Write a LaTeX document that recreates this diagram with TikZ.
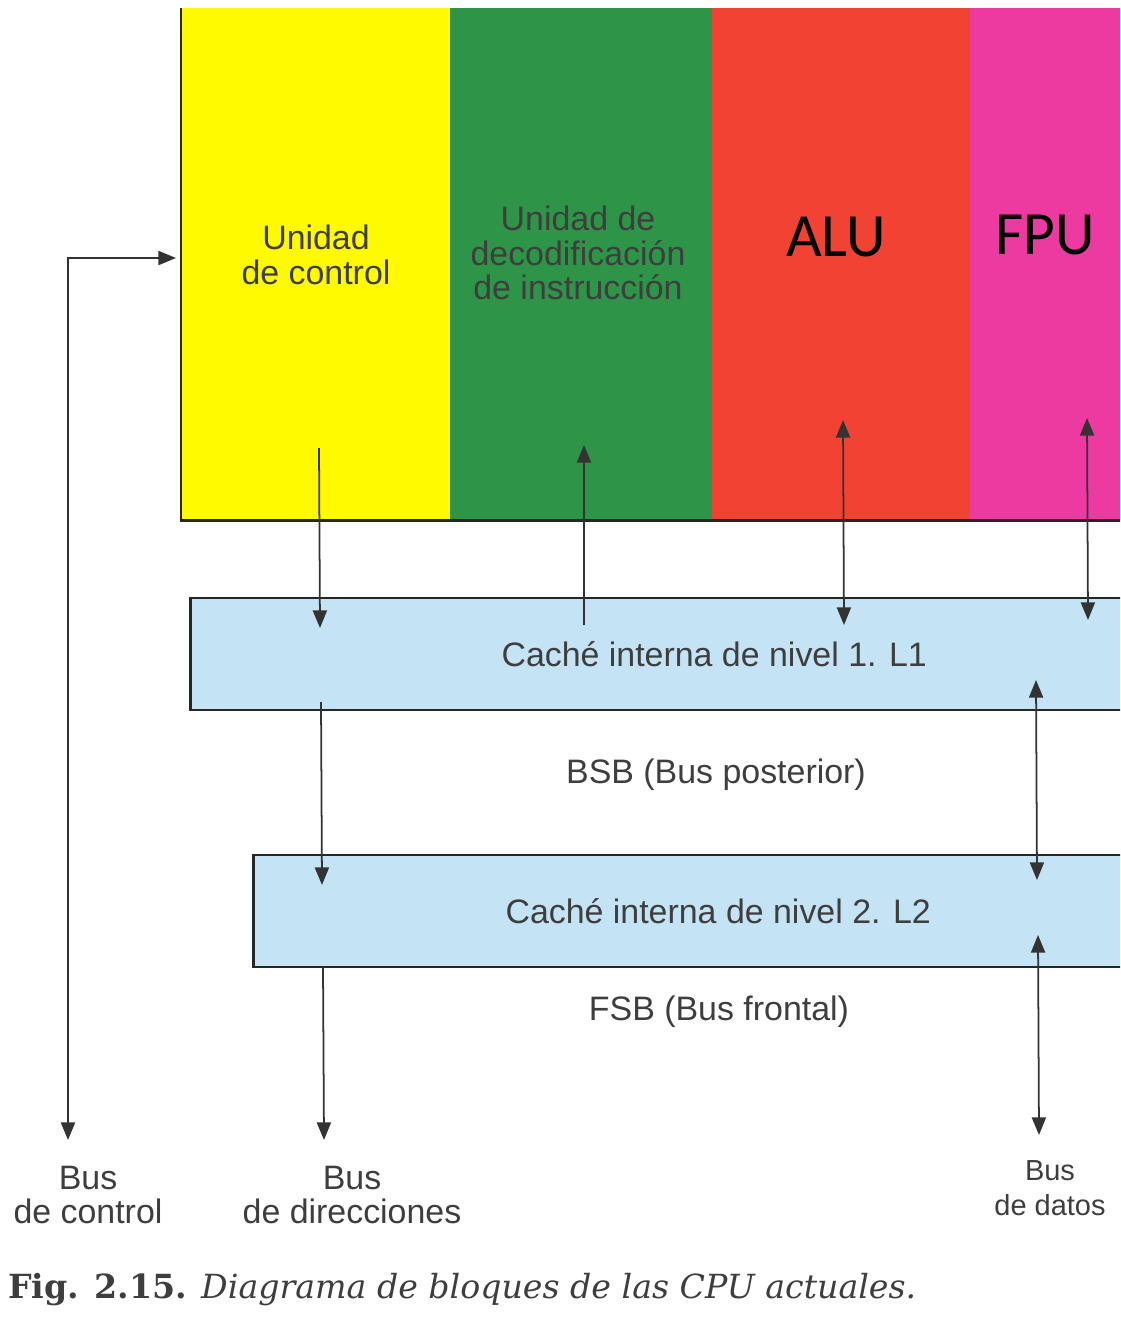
\documentclass[tikz,border=0pt]{standalone}
\usepackage{fontspec}
\setmainfont{Liberation Sans}
\newfontfamily\alufont{Carlito}
\newfontfamily\capfont{DejaVu Serif}
\usepackage{xcolor}
\usepackage{tikz}
\usetikzlibrary{arrows.meta,positioning}

\definecolor{cuyellow}{RGB}{255,250,0}
\definecolor{decgreen}{RGB}{46,148,72}
\definecolor{alured}{RGB}{241,66,52}
\definecolor{fpupink}{RGB}{236,58,160}
\definecolor{cacheblue}{RGB}{196,228,246}
\definecolor{txtgray}{RGB}{62,62,62}

\begin{document}
\begin{tikzpicture}[x=0.02cm,y=-0.02cm,
 font=\fontsize{19.3}{19.6}\selectfont,
 col/.style={draw=none,inner sep=0pt,minimum width=#1,minimum height=10.24cm},
 cache/.style={draw=black!85,line width=1.5pt,fill=cacheblue,inner sep=0pt,minimum height=2.24cm,text=txtgray},
 lbl/.style={align=center,text=txtgray,inner sep=1pt},
 big/.style={font=\alufont\fontsize{35}{40}\selectfont,text=black},
 edge/.style={draw=black!85,line width=1.5pt},
 line/.style={-{Triangle[length=10pt,width=8pt]},line width=1pt,draw=black!80},
 dline/.style={{Triangle[length=10pt,width=8pt]}-{Triangle[length=10pt,width=8pt]},line width=1pt,draw=black!80}]
\clip (0,0) rectangle (1120,1319);
\fill[white] (0,0) rectangle (1120,1319);

% processor block
\node[col=5.4cm,fill=cuyellow,anchor=north west] (cu) at (181,8) {};
\node[col=5.26cm,fill=decgreen,right=-1pt of cu] (dec) {};
\node[col=5.18cm,fill=alured,right=-1pt of dec] (alu) {};
\node[col=3.2cm,fill=fpupink,right=-1pt of alu] (fpu) {};
\draw[edge] (cu.north west)--(cu.south west)--(fpu.south east);
\node[lbl] (cutxt) at (316,255) {Unidad\\de control};
\node[lbl] (dectxt) at (578,253) {Unidad de\\decodificación\\de instrucción};
\node[big] (alutxt) at (836,237) {ALU};
\node[big] (fputxt) at (1045,235) {FPU};

% caches
\node[cache,minimum width=20.96cm,anchor=west] (l1) at (189,654) {Caché interna de nivel 1. L1};
\node[cache,minimum width=18.6cm,anchor=west] (l2) at (252,911) {Caché interna de nivel 2. L2};
\node[lbl] (bsb) at (716,775) {BSB (Bus posterior)};
\node[lbl] (fsb) at (719,1012) {FSB (Bus frontal)};

% buses
\node[lbl] (busctl) at (88,1195) {Bus\\de control};
\node[lbl] (busdir) at (352,1195) {Bus\\de direcciones};
\node[lbl,font=\fontsize{16.5}{19.6}\selectfont] (busdat) at (1050,1188) {Bus\\de datos};

\coordinate (cuIn) at (176,258);
\coordinate (ctlEnd) at (68,1140);
\coordinate (cuOut) at (319,448);
\coordinate (l1Cu) at (320,628);
\coordinate (l1Out) at (321,702);
\coordinate (l2Cu) at (322,885);
\coordinate (l2Out) at (323,967);
\coordinate (dirEnd) at (324,1140);
\coordinate (l1Dec) at (584,625);
\coordinate (decIn) at (584,445);
\coordinate (aluIo) at (843,420);
\coordinate (l1Alu) at (844,625);
\coordinate (fpuIo) at (1087,418);
\coordinate (l1Fpu) at (1088,620);
\coordinate (l1Bsb) at (1036,680);
\coordinate (l2Bsb) at (1037,880);
\coordinate (l2Fsb) at (1038,935);
\coordinate (datEnd) at (1039,1135);

\draw[dline] (cuIn) -| (ctlEnd);
\draw[line] (cuOut)--(l1Cu);
\draw[line] (l1Out)--(l2Cu);
\draw[line] (l2Out)--(dirEnd);
\draw[line] (l1Dec)--(decIn);
\draw[dline] (aluIo)--(l1Alu);
\draw[dline] (fpuIo)--(l1Fpu);
\draw[dline] (l1Bsb)--(l2Bsb);
\draw[dline] (l2Fsb)--(datEnd);

% caption
\node[anchor=base west,inner sep=0pt,text=txtgray,font=\capfont\fontsize{18.9}{21}\selectfont] (cap) at (8,1298)
 {\textbf{Fig. 2.15.} \textit{Diagrama de bloques de las CPU actuales.}};
\end{tikzpicture}
\end{document}
